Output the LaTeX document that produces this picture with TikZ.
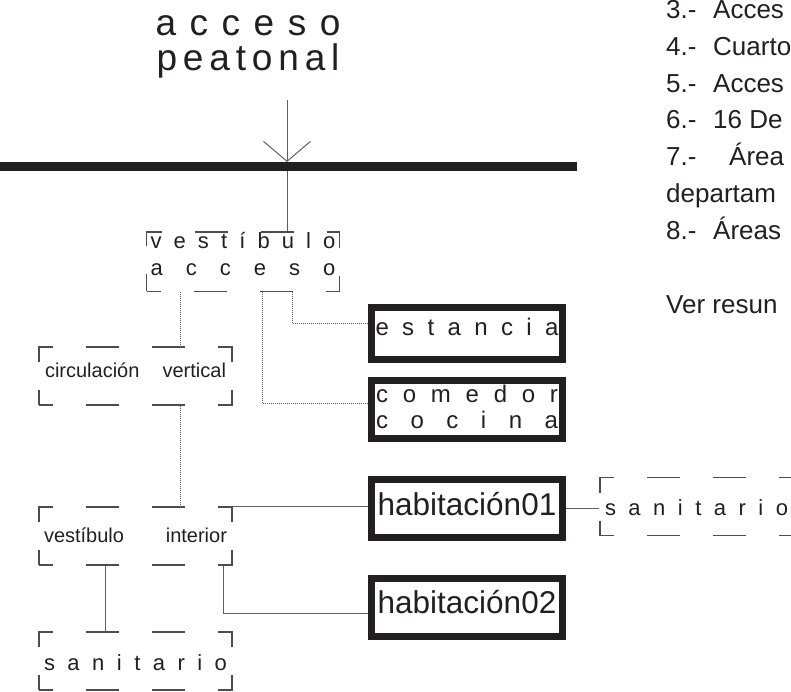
\documentclass[tikz,border=0pt]{standalone}
\usepackage{fontspec}
\setmainfont{Liberation Sans}
\usetikzlibrary{arrows.meta}

\definecolor{tinta}{HTML}{231F20}
\definecolor{trazo}{HTML}{5F5F5F}

% letras repartidas a lo ancho
\newcommand{\letras}[2]{\makebox[#1][s]{#2}}
\newcommand{\punto}[2][47pt]{\makebox[#1][l]{#2.-}}

\tikzset{
  tramo/.style={draw=tinta!80, line width=1.2pt, minimum width=193pt, minimum height=58pt,
    inner sep=0pt, text=tinta,
    dash pattern=on 29pt off 33pt on 33pt off 33pt on 33pt off 33pt on 29pt off 28pt, dash phase=15pt},
  pieza/.style={draw=tinta, line width=7pt, minimum width=191pt, minimum height=58pt,
    inner sep=0pt, text=tinta},
  enlace/.style={draw=trazo, line width=1pt},
  punteado/.style={draw=trazo, line width=0.8pt, dash pattern=on 1pt off 1pt},
}

\begin{document}
\begin{tikzpicture}[x=1pt, y=-1pt]
\useasboundingbox (0,0) rectangle (791,691);

% titulo
\node[anchor=north, inner sep=0pt, text=tinta, align=center,
  font=\fontsize{37pt}{35pt}\selectfont] (titulo) at (248,15.4)
  {\letras{185pt}{a c c e s o}\\{\addfontfeature{LetterSpace=15.8}peatonal}};

% recintos
\node[tramo, align=center, font=\fontsize{22pt}{27pt}\selectfont, text depth=16pt] (vacc) at (243,261.5)
  {\letras{185pt}{v e s t í b u l o}\\\letras{185pt}{a c c e s o}};
\node[tramo, font=\fontsize{20pt}{24pt}\selectfont, text height=15pt, text depth=13pt] (circ) at (135.5,376)
  {\letras{181pt}{circulación vertical}};
\node[tramo, font=\fontsize{20pt}{24pt}\selectfont, text height=15pt, text depth=3pt] (vint) at (135.5,536)
  {\letras{183pt}{vestíbulo interior}};
\node[tramo, font=\fontsize{22pt}{26pt}\selectfont, text height=18pt, text depth=0pt] (san) at (135.5,661)
  {\letras{183pt}{s a n i t a r i o}};
\node[tramo, font=\fontsize{22pt}{26pt}\selectfont, text height=17pt, text depth=0pt] (san2) at (696.5,506.5)
  {\letras{183pt}{s a n i t a r i o}};

\node[pieza, minimum height=52pt, font=\fontsize{24pt}{28pt}\selectfont, text height=17pt, text depth=14pt] (est) at (467,333.5)
  {\letras{183pt}{e s t a n c i a}};
\node[pieza, align=center, font=\fontsize{24pt}{26pt}\selectfont, text depth=6pt] (com) at (467,409.5)
  {\letras{182pt}{c o m e d o r}\\\letras{182pt}{c o c i n a}};
\node[pieza, font=\fontsize{31.5pt}{36pt}\selectfont, text height=23pt, text depth=10pt] (hab1) at (467,508.5)
  {habitación01};
\node[pieza, font=\fontsize{31.5pt}{36pt}\selectfont, text height=23pt, text depth=10pt] (hab2) at (467,607)
  {habitación02};

% acceso
\coordinate (entrada) at (287,100);
\coordinate (puerta) at (287,162);
\draw[enlace, -{Straight Barb[length=20pt, width=47pt]}] (entrada) -- (puerta);
\draw[enlace] (puerta) -- (vacc.north -| puerta);
\draw[draw=tinta, line width=9.5pt] (0,166.5) -- (577,166.5);

% relaciones
\coordinate (eje) at (180,0);
\coordinate (ramaA) at (262,0);
\coordinate (ramaB) at (292,0);
\draw[punteado] (vacc.south -| eje) -- (circ.north -| eje);
\draw[punteado] (circ.south -| eje) -- (vint.north -| eje);
\draw[punteado] (vacc.south -| ramaB) |- ([yshift=10.5pt]est.west);
\draw[punteado] (vacc.south -| ramaA) |- ([yshift=6.5pt]com.west);
\draw[enlace] (vint.north east) -- (vint.north east -| hab1.west);
\draw[enlace] ([xshift=-9pt]vint.south east) |- ([yshift=-6pt]hab2.west);
\draw[enlace] ([xshift=-30.5pt]vint.south) -- ([xshift=-30.5pt]san.north);
\draw[enlace] (hab1.east) -- (hab1.east -| san2.west);

% notas
\foreach \y/\linea [count=\i] in {18/{\punto{3}Acces}, 55/{\punto{4}Cuarto}, 92/{\punto{5}Acces},
    128.5/{\punto{6}16 De}, 165/{\punto[63pt]{7}Área}, 202/{departam}, 239/{\punto{8}Áreas},
    313/{Ver resun}}
  \node[anchor=base west, inner sep=0pt, text=tinta, font=\fontsize{26pt}{30pt}\selectfont] (nota\i) at (666,\y) {\linea};
\end{tikzpicture}
\end{document}
